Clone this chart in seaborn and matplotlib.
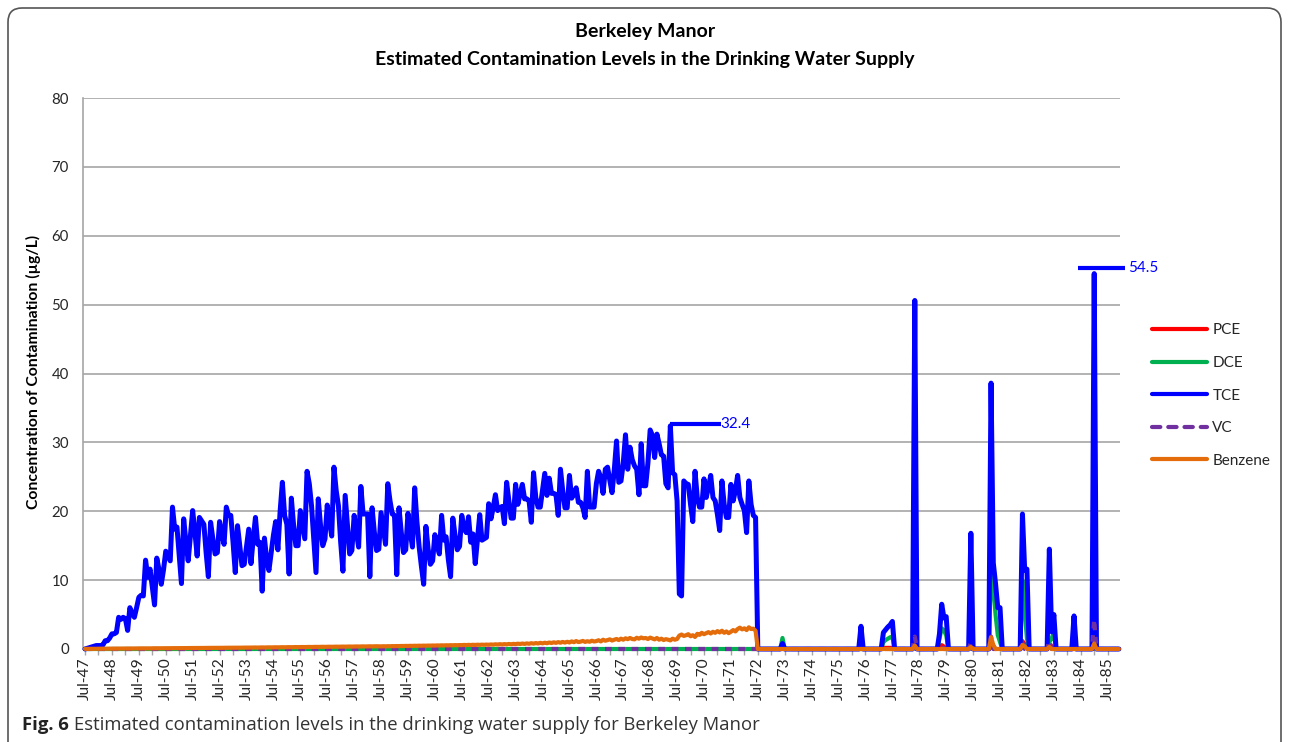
import numpy as np
import pandas as pd
import matplotlib
matplotlib.use("Agg")
import matplotlib.pyplot as plt
import seaborn as sns
from matplotlib.patches import FancyBboxPatch
from matplotlib.lines import Line2D

sns.set_theme(style="white")
plt.rcParams['font.family'] = ['Lato', 'DejaVu Sans']

# ---------------- data ----------------
months = pd.date_range("1947-07-01", "1985-12-01", freq="MS")

# TCE, monthly, Jul-47 .. Jun-72 (rows = Jul..Jun)
tce_1947_1972 = [
    0.0, 0.1, 0.2, 0.3, 0.4, 0.5, 0.5, 0.5, 0.6, 1.2, 1.2, 1.6,
    2.2, 2.2, 2.4, 4.6, 4.3, 4.6, 4.4, 2.7, 6.0, 5.2, 4.6, 6.0,
    7.5, 7.8, 7.7, 12.9, 10.4, 11.6, 9.0, 6.4, 13.2, 11.5, 9.4, 11.5,
    14.2, 13.5, 12.8, 20.6, 17.4, 17.7, 13.5, 9.5, 18.9, 15.5, 12.8, 16.5,
    20.1, 17.0, 13.5, 19.1, 18.6, 18.1, 14.0, 10.5, 18.4, 16.0, 13.8, 14.0,
    18.5, 16.8, 15.2, 20.6, 19.4, 19.4, 15.5, 11.1, 17.9, 15.0, 12.1, 12.3,
    14.8, 17.4, 12.4, 16.0, 19.1, 15.2, 15.5, 8.4, 16.1, 13.0, 11.4, 14.0,
    16.5, 18.5, 14.4, 20.0, 24.2, 19.4, 18.1, 10.9, 21.9, 18.0, 15.0, 15.0,
    20.1, 18.0, 16.0, 25.8, 24.0, 20.8, 16.0, 11.1, 21.8, 18.0, 15.0, 16.0,
    20.9, 18.5, 16.4, 26.4, 23.0, 20.8, 15.5, 11.3, 22.3, 18.0, 13.8, 14.3,
    19.4, 17.0, 14.8, 23.6, 19.6, 19.6, 19.6, 10.5, 20.5, 17.0, 14.3, 14.5,
    19.8, 17.5, 15.2, 24.0, 21.5, 19.6, 19.4, 10.8, 20.5, 17.0, 14.0, 14.4,
    19.7, 17.0, 14.8, 23.4, 18.5, 14.8, 12.0, 9.4, 17.8, 14.5, 12.3, 12.8,
    16.6, 15.0, 13.8, 19.4, 15.8, 16.3, 13.0, 10.5, 19.0, 16.5, 14.4, 14.9,
    19.4, 17.5, 16.9, 19.2, 15.5, 16.7, 12.4, 16.0, 19.5, 15.8, 16.0, 16.2,
    21.1, 18.9, 20.5, 22.4, 20.1, 20.5, 20.7, 18.2, 24.2, 21.5, 19.0, 19.0,
    23.9, 21.0, 22.5, 23.9, 21.8, 21.8, 21.5, 18.4, 25.6, 22.0, 20.6, 20.6,
    23.0, 25.5, 22.3, 24.8, 22.6, 22.6, 22.4, 19.4, 26.1, 23.0, 20.5, 20.5,
    25.2, 21.9, 22.5, 23.4, 21.3, 21.3, 20.5, 19.1, 25.8, 20.6, 20.6, 20.6,
    24.0, 25.8, 24.9, 22.6, 26.1, 26.4, 24.5, 22.7, 26.0, 30.2, 24.2, 24.4,
    27.0, 31.1, 26.1, 29.3, 27.5, 26.6, 26.1, 22.4, 29.8, 23.7, 23.7, 27.0,
    31.8, 31.0, 27.8, 31.2, 29.8, 28.2, 28.0, 24.0, 23.4, 32.4, 25.6, 25.3,
    21.5, 8.0, 7.7, 24.4, 24.0, 23.9, 21.0, 18.5, 25.8, 22.0, 20.6, 20.6,
    24.7, 22.0, 23.5, 25.2, 22.0, 21.5, 19.5, 17.2, 24.4, 21.0, 19.1, 19.1,
    23.9, 21.5, 23.0, 25.2, 22.0, 21.0, 20.1, 16.9, 24.4, 21.0, 19.4, 19.1,
]

# Benzene, monthly, Jul-47 .. Jun-72
benzene_1947_1972 = [
    0.02, 0.02, 0.03, 0.03, 0.03, 0.03, 0.04, 0.04, 0.04, 0.04, 0.05, 0.05,
    0.05, 0.05, 0.06, 0.06, 0.06, 0.06, 0.07, 0.07, 0.07, 0.07, 0.08, 0.08,
    0.08, 0.08, 0.09, 0.09, 0.09, 0.09, 0.10, 0.10, 0.10, 0.10, 0.11, 0.11,
    0.11, 0.11, 0.12, 0.12, 0.12, 0.12, 0.13, 0.13, 0.13, 0.13, 0.14, 0.14,
    0.14, 0.14, 0.15, 0.15, 0.15, 0.15, 0.16, 0.16, 0.16, 0.16, 0.17, 0.17,
    0.17, 0.17, 0.18, 0.18, 0.18, 0.18, 0.19, 0.19, 0.19, 0.19, 0.20, 0.20,
    0.20, 0.21, 0.20, 0.21, 0.22, 0.21, 0.22, 0.23, 0.22, 0.23, 0.24, 0.23,
    0.24, 0.25, 0.24, 0.25, 0.26, 0.25, 0.26, 0.27, 0.26, 0.27, 0.28, 0.27,
    0.28, 0.29, 0.28, 0.29, 0.30, 0.29, 0.30, 0.31, 0.30, 0.31, 0.32, 0.31,
    0.32, 0.33, 0.32, 0.33, 0.34, 0.33, 0.34, 0.35, 0.34, 0.35, 0.36, 0.35,
    0.36, 0.37, 0.36, 0.37, 0.38, 0.37, 0.38, 0.39, 0.38, 0.39, 0.40, 0.39,
    0.38, 0.40, 0.39, 0.41, 0.40, 0.42, 0.41, 0.43, 0.42, 0.44, 0.43, 0.45,
    0.44, 0.46, 0.45, 0.47, 0.46, 0.48, 0.47, 0.49, 0.48, 0.50, 0.49, 0.51,
    0.50, 0.52, 0.51, 0.53, 0.52, 0.54, 0.53, 0.55, 0.54, 0.56, 0.55, 0.57,
    0.56, 0.59, 0.57, 0.60, 0.58, 0.61, 0.59, 0.62, 0.60, 0.63, 0.61, 0.64,
    0.62, 0.66, 0.63, 0.68, 0.65, 0.70, 0.66, 0.71, 0.67, 0.73, 0.69, 0.74,
    0.71, 0.77, 0.73, 0.79, 0.74, 0.81, 0.76, 0.84, 0.78, 0.86, 0.80, 0.89,
    0.82, 0.91, 0.84, 0.94, 0.87, 0.97, 0.89, 1.00, 0.91, 1.03, 0.93, 1.05,
    0.95, 1.10, 0.99, 1.15, 1.01, 1.07, 1.17, 1.03, 1.13, 1.05, 1.20, 1.09,
    1.15, 1.27, 1.10, 1.35, 1.20, 1.30, 1.40, 1.23, 1.35, 1.45, 1.30, 1.50,
    1.35, 1.55, 1.43, 1.60, 1.45, 1.40, 1.63, 1.50, 1.67, 1.55, 1.60, 1.45,
    1.65, 1.53, 1.40, 1.60, 1.35, 1.50, 1.30, 1.43, 1.35, 1.25, 1.50, 1.35,
    1.45, 1.95, 2.10, 1.90, 2.00, 2.15, 1.85, 2.00, 1.75, 2.20, 2.05, 2.35,
    2.15, 2.30, 2.45, 2.25, 2.50, 2.35, 2.60, 2.40, 2.65, 2.35, 2.55, 2.30,
    2.50, 2.75, 2.55, 2.90, 3.10, 2.85, 3.00, 2.75, 3.15, 2.90, 2.95, 2.65,
]

# Non-zero months after mid-1972 (all other months are 0)
tce_after = {"1973-06": 0.8, "1976-05": 3.3,
             "1977-03": 2.4, "1977-04": 2.8, "1977-05": 3.2, "1977-06": 3.5, "1977-07": 4.0,
             "1978-05": 50.6,
             "1979-04": 2.2, "1979-05": 6.5, "1979-06": 4.5, "1979-07": 4.7,
             "1980-06": 16.8,
             "1981-03": 38.6, "1981-04": 12.5, "1981-05": 9.5, "1981-06": 6.0, "1981-07": 6.0,
             "1982-05": 19.6, "1982-06": 11.4, "1982-07": 11.6,
             "1983-05": 14.5, "1983-06": 2.5, "1983-07": 5.0,
             "1984-04": 4.8, "1985-01": 54.5}
dce_after = {"1973-06": 1.6,
             "1977-03": 1.0, "1977-04": 1.3, "1977-05": 1.5, "1977-06": 1.7, "1977-07": 1.8,
             "1978-05": 3.0,
             "1979-04": 1.5, "1979-05": 3.0, "1979-06": 2.7, "1979-07": 2.0,
             "1980-06": 0.5,
             "1981-03": 12.0, "1981-04": 9.0, "1981-05": 5.0, "1981-06": 2.0, "1981-07": 1.0,
             "1982-05": 10.0, "1982-06": 5.5, "1982-07": 1.5,
             "1983-05": 1.0, "1983-06": 1.5, "1983-07": 2.5,
             "1984-04": 0.3, "1985-01": 18.0}
pce_after = {"1977-03": 0.2, "1977-04": 0.2, "1977-05": 0.2, "1977-06": 0.2, "1977-07": 0.2,
             "1978-05": 0.8, "1979-05": 0.6, "1979-06": 0.4, "1980-06": 0.3,
             "1981-03": 1.0, "1981-04": 0.5,
             "1982-05": 1.2, "1982-06": 0.8, "1982-07": 0.3,
             "1983-05": 0.6, "1983-06": 0.5, "1985-01": 4.2}
vc_after = {"1978-05": 1.8, "1979-05": 0.5, "1980-06": 1.0, "1981-03": 1.8,
            "1982-05": 1.1, "1983-05": 1.2, "1985-01": 4.3}
benzene_after = {"1978-05": 0.5, "1980-06": 0.3, "1981-03": 1.7, "1981-04": 0.6,
                 "1982-05": 0.6, "1982-06": 0.4, "1983-05": 0.3, "1985-01": 0.8}

series_names = ["PCE", "DCE", "TCE", "VC", "Benzene"]
series_colors = ["#FF0000", "#00B050", "#0000FF", "#7030A0", "#E46C0A"]

# ---------------- build table ----------------
n = len(months)
keys = months.strftime("%Y-%m")
pos = {k: i for i, k in enumerate(keys)}

def build(early, after):
    arr = np.zeros(n)
    arr[:len(early)] = early
    for k, v in after.items():
        arr[pos[k]] = v
    return arr

values = {
    "PCE": build([], pce_after),
    "DCE": build([], dce_after),
    "TCE": build(tce_1947_1972, tce_after),
    "VC": build([], vc_after),
    "Benzene": build(benzene_1947_1972, benzene_after),
}
df = pd.DataFrame({"month": np.arange(n), **values})

# ---------------- figure ----------------
W, H = 1289, 742
fig = plt.figure(figsize=(W / 100, H / 100), dpi=100)
fig.patch.set_facecolor("white")
ax = fig.add_axes([83 / W, (H - 649) / H, (1120 - 83) / W, (649 - 98) / H])

styles = {
    "PCE": dict(lw=2.6, zorder=2),
    "DCE": dict(lw=3.0, zorder=3),
    "TCE": dict(lw=3.6, zorder=4),
    "VC": dict(lw=3.0, zorder=5, linestyle=(0, (1.6, 1.6))),
    "Benzene": dict(lw=3.0, zorder=6),
}
for name, color in zip(series_names, series_colors):
    st = styles[name]
    sns.lineplot(data=df, x="month", y=name, ax=ax, color=color,
                 linewidth=st["lw"], zorder=st["zorder"], clip_on=False,
                 linestyle=st.get("linestyle", "-"), legend=False)

ax.set_xlim(-0.9, 461.5)
ax.set_ylim(0, 80)
ax.set_yticks(np.arange(0, 81, 10))
ax.set_xlabel("")
ax.set_ylabel("")

july = [i for i, d in enumerate(months) if d.month == 7]
ax.set_xticks(july)
ax.set_xticklabels([months[i].strftime("%b-%y") for i in july], rotation=90,
                   fontsize=11.2, color="#262626")
ax.set_xticks([i + 6 for i in july if i + 6 < n], minor=True)
ax.tick_params(axis="x", which="both", direction="out", length=4, width=1,
               color="#A6A6A6", pad=2, bottom=True)
ax.tick_params(axis="y", length=0, pad=10, labelsize=10.8, labelcolor="#262626")

ax.yaxis.grid(True, color="#A6A6A6", lw=1.2)
ax.xaxis.grid(False)
ax.set_axisbelow(True)
for s in ["top", "right"]:
    ax.spines[s].set_visible(False)
for s in ["left", "bottom"]:
    ax.spines[s].set_color("#A6A6A6")
    ax.spines[s].set_linewidth(1.2)

# data labels (peak values) with leader lines
tce = values["TCE"]
p1 = int(np.argmax(tce[:300]))
ax.plot([p1, p1 + 22.5], [tce[p1] + 0.25] * 2, color="#0000FF", lw=3.0,
        zorder=7, solid_capstyle="butt")
ax.text(p1 + 22.3, tce[p1] + 0.25, f"{tce[p1]:.1f}", color="#0000FF",
        fontsize=11, va="center", ha="left", zorder=8)
p2 = int(np.argmax(tce))
ax.plot([p2 - 7.3, p2 + 13.7], [tce[p2] + 0.8] * 2, color="#0000FF", lw=3.0,
        zorder=7, clip_on=False, solid_capstyle="butt")
ax.text(p2 + 15.0, tce[p2] + 0.8, f"{tce[p2]:.1f}", color="#0000FF",
        fontsize=11, va="center", ha="left", zorder=8, clip_on=False)

# legend
handles = []
for name, color in zip(series_names, series_colors):
    if name == "VC":
        h = Line2D([], [], color=color, lw=3.0, linestyle=(0, (2.0, 1.9)),
                   dash_capstyle="round")
    else:
        h = Line2D([], [], color=color, lw=3.0, solid_capstyle="round")
    handles.append(h)
fig.legend(handles, series_names, loc="center left",
           bbox_to_anchor=(1152 / W, 1 - 395.5 / H), frameon=False,
           fontsize=11, handlelength=3.6, handletextpad=0.35,
           labelspacing=1.22, borderpad=0, borderaxespad=0)

# titles
fig.text(645 / W, 1 - 31 / H, "Berkeley Manor", ha="center", va="center",
         fontsize=14, fontweight="bold", color="#000000")
fig.text(645 / W, 1 - 59 / H,
         "Estimated Contamination Levels in the Drinking Water Supply",
         ha="center", va="center", fontsize=14, fontweight="bold", color="#000000")
fig.text(33 / W, 1 - 372 / H, "Concentration of Contamination (µg/L)",
         rotation=90, ha="center", va="center", fontsize=11.3, fontweight="bold",
         color="#000000")

# frame
frame = FancyBboxPatch((8, -30), W - 16, H - 8 + 30,
                       boxstyle="round,pad=0,rounding_size=14",
                       transform=None, fill=False, edgecolor="#555555", lw=1.2)
fig.add_artist(frame)

# caption
cap1 = fig.text(22 / W, 1 - 725 / H, "Fig. 6", ha="left", va="center",
                fontsize=13.3, fontweight="bold", color="#222222",
                family=["Open Sans", "DejaVu Sans"])
fig.canvas.draw()
bb = cap1.get_window_extent(renderer=fig.canvas.get_renderer())
fig.text((bb.x1 + 5) / W, 1 - 725 / H,
         "Estimated contamination levels in the drinking water supply for Berkeley Manor",
         ha="left", va="center", fontsize=13.3, color="#333333",
         family=["Open Sans", "DejaVu Sans"])

fig.savefig("out.png", dpi=100)
